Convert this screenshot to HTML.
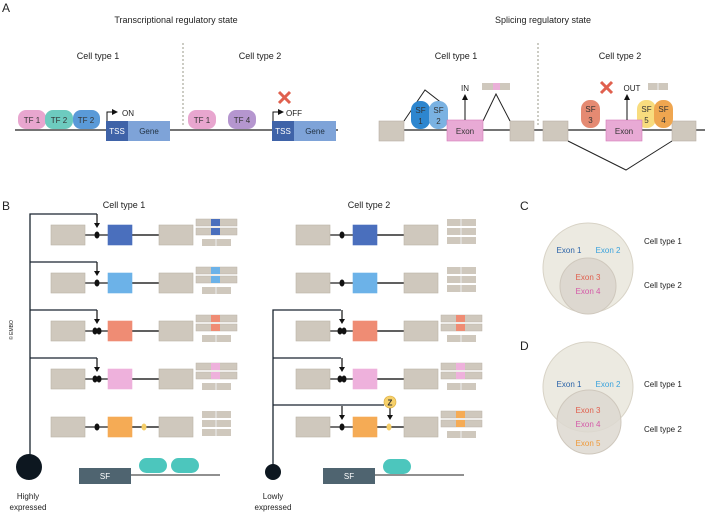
<!DOCTYPE html>
<html><head><meta charset="utf-8"><style>
html,body{margin:0;padding:0;background:#fff;}
svg{display:block;font-family:"Liberation Sans",sans-serif;}
</style></head><body>
<svg id="s" width="705" height="512" viewBox="0 0 705 512" xmlns="http://www.w3.org/2000/svg">
<defs>
<marker id="ar" markerWidth="6" markerHeight="6" refX="3" refY="3" orient="auto" markerUnits="userSpaceOnUse"><path d="M0,0 L6,3 L0,6 Z" fill="#111"/></marker>
</defs>
<g font-size="9" fill="#222">
<text x="2" y="12" font-size="12">A</text>
<text x="176" y="23" text-anchor="middle">Transcriptional regulatory state</text>
<text x="98" y="59" text-anchor="middle">Cell type 1</text>
<text x="260" y="59" text-anchor="middle">Cell type 2</text>
<text x="543" y="23" text-anchor="middle">Splicing regulatory state</text>
<text x="456" y="59" text-anchor="middle">Cell type 1</text>
<text x="620" y="59" text-anchor="middle">Cell type 2</text>
</g>
<line x1="183" y1="43" x2="183" y2="127" stroke="#998" stroke-dasharray="2,2"/>
<line x1="538" y1="43" x2="538" y2="127" stroke="#998" stroke-dasharray="2,2"/>
<line x1="15" y1="130" x2="338" y2="130" stroke="#222" stroke-width="1.3"/>
<line x1="379" y1="130" x2="705" y2="130" stroke="#222" stroke-width="1.3"/>
<!-- TFs -->
<g font-size="8" fill="#333" text-anchor="middle">
<rect x="18" y="110" width="28" height="19" rx="8" fill="#e8a6cf"/><text x="32" y="123">TF 1</text>
<rect x="45" y="110" width="28" height="19" rx="8" fill="#6dcbbf"/><text x="59" y="123">TF 2</text>
<rect x="73" y="110" width="27" height="19" rx="8" fill="#5a9ad8"/><text x="86" y="123">TF 2</text>
<rect x="188" y="110" width="28" height="19" rx="8" fill="#e8a6cf"/><text x="202" y="123">TF 1</text>
<rect x="228" y="110" width="28" height="19" rx="8" fill="#b596cf"/><text x="242" y="123">TF 4</text>
</g>
<g font-size="8" text-anchor="middle" fill="#fff">
<rect x="106" y="121" width="23" height="20" fill="#3f63a8"/><text x="117" y="134">TSS</text>
<rect x="128" y="121" width="42" height="20" fill="#7ea3d8"/><text x="149" y="134" fill="#234">Gene</text>
<rect x="272" y="121" width="23" height="20" fill="#3f63a8"/><text x="283" y="134">TSS</text>
<rect x="294" y="121" width="42" height="20" fill="#7ea3d8"/><text x="315" y="134" fill="#234">Gene</text>
</g>
<path d="M107,121 V112 H115" stroke="#111" fill="none" marker-end="url(#ar)"/>
<text x="122" y="116" font-size="8" fill="#222">ON</text>
<path d="M273,121 V112 H281" stroke="#111" fill="none" marker-end="url(#ar)"/>
<text x="286" y="116" font-size="8" fill="#222">OFF</text>
<g stroke="#e0604e" stroke-width="3"><line x1="279" y1="92" x2="290" y2="103"/><line x1="290" y1="92" x2="279" y2="103"/></g>
<!-- splicing -->
<g fill="#cfc8bd" stroke="#b8b0a4" stroke-width=".6">
<rect x="379" y="121" width="25" height="20"/><rect x="510" y="121" width="24" height="20"/>
<rect x="543" y="121" width="25" height="20"/><rect x="672" y="121" width="24" height="20"/>
</g>
<path d="M404,121 L425,90 L443,104" stroke="#222" fill="none"/>
<path d="M483,121 L496,94 L510,121" stroke="#222" fill="none"/>
<path d="M568,141 L626,170 L672,141" stroke="#222" fill="none"/>
<g font-size="8" fill="#333" text-anchor="middle">
<rect x="411" y="101" width="19" height="28" rx="9" fill="#2d86cf"/><text x="420.5" y="113">SF</text><text x="420.5" y="124">1</text>
<rect x="429" y="101" width="19" height="28" rx="9" fill="#7ab2e2"/><text x="438.5" y="113">SF</text><text x="438.5" y="124">2</text>
<rect x="581" y="100" width="19" height="28" rx="9" fill="#e58a72"/><text x="590.5" y="112">SF</text><text x="590.5" y="123">3</text>
<rect x="637" y="100" width="19" height="28" rx="9" fill="#f8dc7e"/><text x="646.5" y="112">SF</text><text x="646.5" y="123">5</text>
<rect x="654" y="100" width="19" height="28" rx="9" fill="#efa650"/><text x="663.5" y="112">SF</text><text x="663.5" y="123">4</text>
<rect x="447" y="120" width="36" height="21" fill="#e8aad5" stroke="#d47ab8" stroke-width=".6"/><text x="465" y="134">Exon</text>
<rect x="606" y="120" width="36" height="21" fill="#e8aad5" stroke="#d47ab8" stroke-width=".6"/><text x="624" y="134">Exon</text>
</g>
<line x1="465" y1="120" x2="465" y2="97" stroke="#111" marker-end="url(#ar)"/>
<text x="465" y="91" font-size="8" text-anchor="middle" fill="#222">IN</text>
<line x1="627" y1="120" x2="627" y2="97" stroke="#111" marker-end="url(#ar)"/>
<text x="632" y="91" font-size="8" text-anchor="middle" fill="#222">OUT</text>
<g stroke="#e0604e" stroke-width="3"><line x1="601" y1="82" x2="612" y2="93"/><line x1="612" y1="82" x2="601" y2="93"/></g>
<rect x="482" y="83" width="28" height="7" fill="#cfc8bd"/><rect x="493" y="83" width="7" height="7" fill="#eab0d8"/>
<rect x="648" y="83" width="20" height="7" fill="#cfc8bd"/><line x1="658" y1="83" x2="658" y2="90" stroke="#eee"/>
<!-- B -->
<g font-size="9" fill="#222">
<text x="2" y="210" font-size="12">B</text>
<text x="124" y="208" text-anchor="middle">Cell type 1</text>
<text x="369" y="208" text-anchor="middle">Cell type 2</text>
<text x="28" y="499" text-anchor="middle" font-size="8">Highly</text>
<text x="28" y="510" text-anchor="middle" font-size="8">expressed</text>
<text x="273" y="499" text-anchor="middle" font-size="8">Lowly</text>
<text x="273" y="510" text-anchor="middle" font-size="8">expressed</text>
<text x="13" y="330" font-size="5" transform="rotate(-90 13 330)" text-anchor="middle">© EMBO</text>
</g>
<g id="rows"></g>
<path d="M30,467 V214 H97 M30,262 H97 M30,310 H97 M30,358 H97" stroke="#1a2530" stroke-width="1.3" fill="none"/>
<path d="M273,472 V310 H341 M273,358 H341 M273,405 H384" stroke="#1a2530" stroke-width="1.3" fill="none"/>
<circle cx="29" cy="467" r="13" fill="#0d1720"/>
<circle cx="273" cy="472" r="8" fill="#0d1720"/>
<rect x="79" y="468" width="52" height="16" fill="#4f6470"/><text x="105" y="479" font-size="8" fill="#fff" text-anchor="middle">SF</text>
<line x1="131" y1="475" x2="220" y2="475" stroke="#222"/>
<rect x="139" y="458" width="28" height="15" rx="7.5" fill="#4cc6bd"/><rect x="171" y="458" width="28" height="15" rx="7.5" fill="#4cc6bd"/>
<rect x="323" y="468" width="52" height="16" fill="#4f6470"/><text x="349" y="479" font-size="8" fill="#fff" text-anchor="middle">SF</text>
<line x1="375" y1="475" x2="464" y2="475" stroke="#222"/>
<rect x="383" y="459" width="28" height="15" rx="7.5" fill="#4cc6bd"/>
<circle cx="390" cy="402" r="6" fill="#f6d06a" stroke="#d9a93a" stroke-width=".6"/><text x="390" y="405.5" font-size="8" text-anchor="middle" fill="#333" font-weight="bold">Z</text>
<!-- C / D -->
<g font-size="9" fill="#222"><text x="520" y="210" font-size="12">C</text><text x="520" y="350" font-size="12">D</text></g>
<circle cx="588" cy="268" r="45" fill="#eceae1" stroke="#d8d3c6"/>
<circle cx="588" cy="286" r="28" fill="#ddd8d0" stroke="#cfc8bd"/>
<circle cx="588" cy="387" r="45" fill="#eceae1" stroke="#d8d3c6"/>
<circle cx="589" cy="422" r="32" fill="#ddd8d0" fill-opacity=".85" stroke="#cfc8bd"/>
<g font-size="8" text-anchor="middle">
<text x="569" y="253" fill="#2a63a8">Exon 1</text><text x="608" y="253" fill="#3aa2dc">Exon 2</text>
<text x="588" y="280" fill="#e0604e">Exon 3</text><text x="588" y="294" fill="#d45aa8">Exon 4</text>
<text x="569" y="387" fill="#2a63a8">Exon 1</text><text x="608" y="387" fill="#3aa2dc">Exon 2</text>
<text x="588" y="413" fill="#e0604e">Exon 3</text><text x="588" y="427" fill="#d45aa8">Exon 4</text>
<text x="588" y="446" fill="#ef9a3a">Exon 5</text>
</g>
<g font-size="8" fill="#222">
<text x="644" y="244">Cell type 1</text><text x="644" y="288">Cell type 2</text>
<text x="644" y="387">Cell type 1</text><text x="644" y="432">Cell type 2</text>
</g>
</svg>
<script>
var g=document.getElementById('rows'),ns='http://www.w3.org/2000/svg';
function el(t,a){var e=document.createElementNS(ns,t);for(var k in a)e.setAttribute(k,a[k]);g.appendChild(e);return e;}
var cols=['#4a6fbd','#6cb2e8','#ef8c74','#eeb1dc','#f5ab55'];
var ys=[235,283,331,379,427];
function row(ox,y,c,dbl,yel,arrow,bars){
 el('line',{x1:ox+34,y1:y,x2:ox+108,y2:y,stroke:'#222','stroke-width':1.2});
 el('line',{x1:ox+81,y1:y,x2:ox+108,y2:y,stroke:'#222','stroke-width':1.2});
 el('rect',{x:ox,y:y-10,width:34,height:20,fill:'#cfc8bd',stroke:'#bbb3a7','stroke-width':.6});
 el('rect',{x:ox+108,y:y-10,width:34,height:20,fill:'#cfc8bd',stroke:'#bbb3a7','stroke-width':.6});
 el('rect',{x:ox+57,y:y-10,width:24,height:20,fill:c,stroke:c,'stroke-width':.6});
 if(dbl){el('ellipse',{cx:ox+44,cy:y,rx:2.5,ry:3.5,fill:'#111'});el('ellipse',{cx:ox+48,cy:y,rx:2.5,ry:3.5,fill:'#111'});}
 else el('ellipse',{cx:ox+46,cy:y,rx:2.5,ry:3.5,fill:'#111'});
 if(yel)el('ellipse',{cx:ox+93,cy:y,rx:2.5,ry:3.5,fill:'#f6cf6a'});
 if(arrow){el('line',{x1:ox+46,y1:y-21,x2:ox+46,y2:y-11,stroke:'#111','stroke-width':1.2});el('path',{d:'M'+(ox+43)+','+(y-12)+' L'+(ox+49)+','+(y-12)+' L'+(ox+46)+','+(y-7)+'Z',fill:'#111'});}
 if(arrow==2){el('line',{x1:ox+94,y1:y-19,x2:ox+94,y2:y-11,stroke:'#111','stroke-width':1.2});el('path',{d:'M'+(ox+91)+','+(y-12)+' L'+(ox+97)+','+(y-12)+' L'+(ox+94)+','+(y-7)+'Z',fill:'#111'});}
 var bx=ox+145;
 if(bars){
  [y-16,y-7].forEach(function(yy){el('rect',{x:bx,y:yy,width:41,height:7,fill:'#cfc8bd',stroke:'#bbb3a7','stroke-width':.5});el('rect',{x:bx+15,y:yy,width:9,height:7,fill:c});});
  el('rect',{x:bx+6,y:y+4,width:29,height:7,fill:'#cfc8bd'});el('line',{x1:bx+20,y1:y+4,x2:bx+20,y2:y+11,stroke:'#eee'});
 }else{
  [y-16,y-7,y+2].forEach(function(yy){el('rect',{x:bx+6,y:yy,width:29,height:7,fill:'#cfc8bd'});el('line',{x1:bx+20,y1:yy,x2:bx+20,y2:yy+7,stroke:'#eee'});});
 }
}
for(var i=0;i<5;i++){
 row(51,ys[i],cols[i],i==2||i==3,i==4,i<4?1:0,i<4);
 row(296,ys[i],cols[i],i==2||i==3,i==4,i>=2?(i==4?2:1):0,i>=2);
}
</script>
</body></html>
